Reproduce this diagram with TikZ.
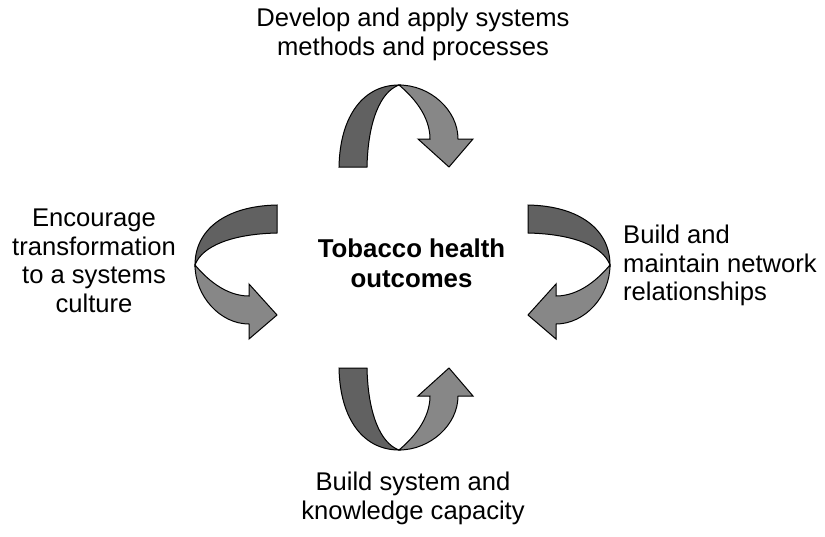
\documentclass[tikz,border=0pt]{standalone}
\usepackage{fontspec}
\setmainfont{Liberation Sans}
\definecolor{darkband}{gray}{0.38}
\definecolor{lightband}{gray}{0.53}
\newcommand\ribbonarrow{%
  \filldraw[fill=lightband, draw=black, line width=1pt]
    (399,85) .. controls (430,85) and (458,110) .. (458,139)
    -- (473,139) -- (449,167) -- (418,139) -- (430,139)
    .. controls (430,115) and (412,96) .. (399,85) -- cycle;
  \filldraw[fill=darkband, draw=black, line width=1pt]
    (339,167) .. controls (340,115) and (364,85) .. (399,85)
    .. controls (380,92) and (368,122) .. (367,167) -- cycle;
}
\begin{document}
\begin{tikzpicture}[x=1pt,y=-1pt,
  lbl/.style={inner sep=0pt, align=center, font=\fontsize{25.6}{28.5}\selectfont}]
\useasboundingbox (0,0) rectangle (825,536);
\fill[white] (0,0) rectangle (825,536);
% top arrow
\ribbonarrow
% bottom arrow
\begin{scope}[shift={(0,535)}, yscale=-1]
  \ribbonarrow
\end{scope}
% left arrow
\begin{scope}[cm={0,-1,-1,0,(110pt,134pt)}]
  \ribbonarrow
\end{scope}
% right arrow
\begin{scope}[shift={(805,0)}, xscale=-1]
  \begin{scope}[cm={0,-1,-1,0,(110pt,134pt)}]
    \ribbonarrow
  \end{scope}
\end{scope}
\node[lbl, anchor=base] (top) at (413,55) {Develop and apply systems\\methods and processes};
\node[lbl, anchor=base] (left) at (94,312) {Encourage\\transformation\\to a systems\\culture};
\node[lbl, anchor=base, font=\fontsize{25.8}{29.5}\selectfont\bfseries] (center) at (411.5,287) {Tobacco health\\outcomes};
\node[lbl, anchor=base west, align=left] (right) at (623,300.5) {Build and\\maintain network\\relationships};
\node[lbl, anchor=base] (bottom) at (413,519) {Build system and\\knowledge capacity};
\end{tikzpicture}
\end{document}
